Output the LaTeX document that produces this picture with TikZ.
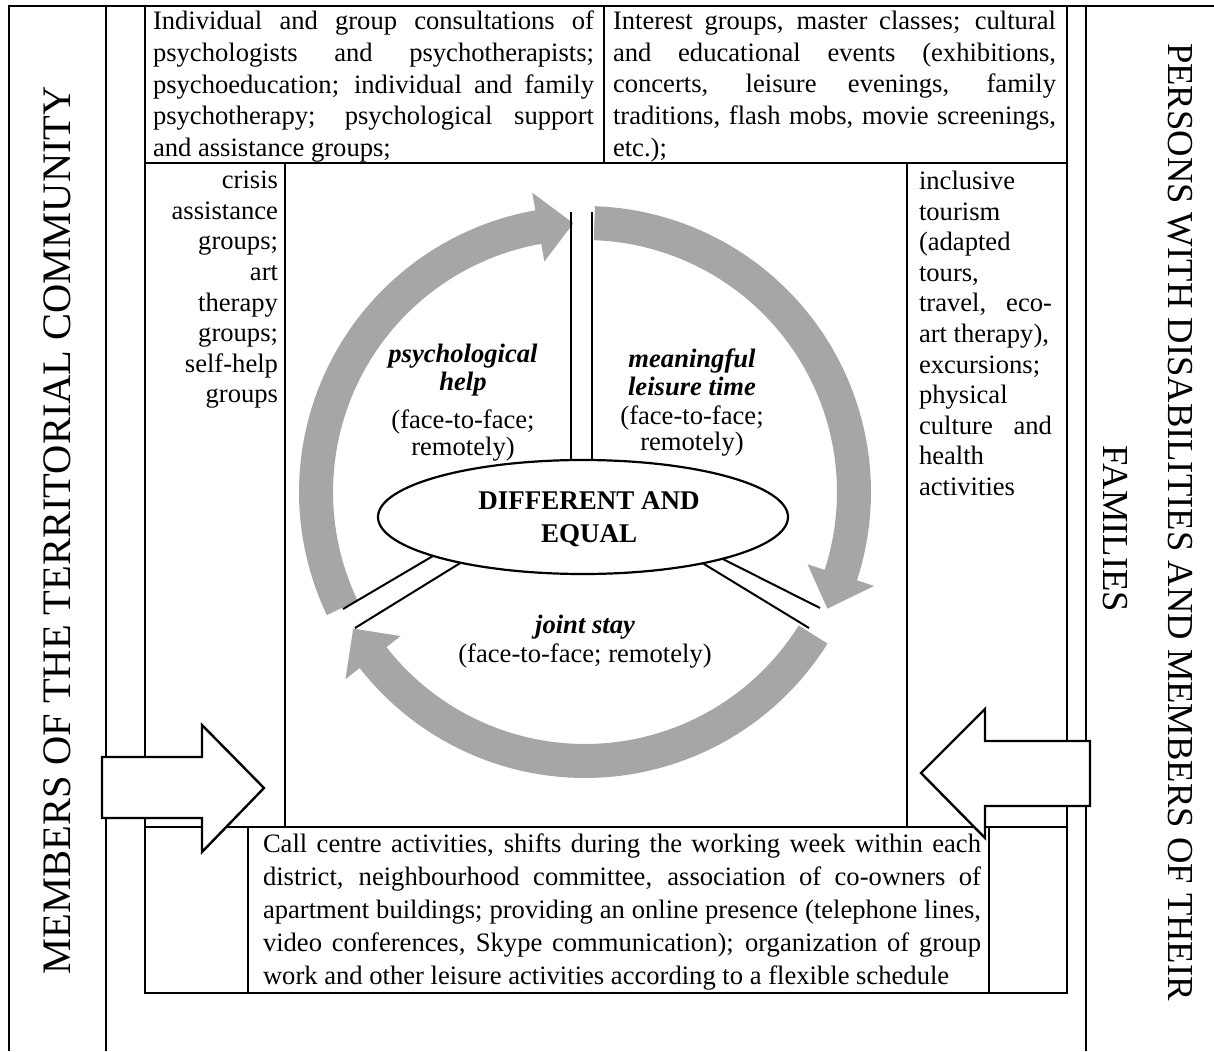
\documentclass[tikz,border=0pt]{standalone}
\usepackage{fontspec}
\setmainfont{Liberation Serif}
\usetikzlibrary{calc,shapes.geometric}
\definecolor{ringgray}{HTML}{A6A6A6}
\newcommand\bodysize{\fontsize{26.6}{31.7}\selectfont}
\newcommand\lowsize{\fontsize{26.6}{33}\selectfont}
\newcommand\colsize{\fontsize{26.6}{30.6}\selectfont}
% natural interword spaces (TikZ alignment fixes them otherwise)
\newcommand\natsp{\spaceskip=0pt\xspaceskip=0pt\relax}
% a line spread over the full text width
\newcommand\jl[1]{\makebox[\hsize][s]{\natsp #1}}
% one gray ring segment with an arrowhead: start angle, head base angle, tip angle
\newcommand\ringarrow[3]{%
  \fill[ringgray]
    plot[domain=#1:#2, samples=60] ({585+286*cos(\x)},{492+286*sin(\x)})
    -- ({585+304*cos(#2)},{492+304*sin(#2)})
    -- ({585+269*cos(#3)},{492+269*sin(#3)})
    -- ({585+234*cos(#2)},{492+234*sin(#2)})
    -- plot[domain=#2:#1, samples=60] ({585+252*cos(\x)},{492+252*sin(\x)})
    -- cycle;}

\begin{document}
\begin{tikzpicture}[x=1pt,y=-1pt,
  rule/.style={line width=2.2pt},
  txt/.style={inner sep=0pt, outer sep=0pt, font=\bodysize},
  lowtxt/.style={inner sep=0pt, outer sep=0pt, font=\lowsize},
  coltxt/.style={inner sep=0pt, outer sep=0pt, font=\colsize},
  lbl/.style={inner sep=0pt, anchor=base, font=\bodysize\bfseries\itshape},
  sub/.style={inner sep=0pt, anchor=base, font=\bodysize},
  spoke/.style={line width=2pt},
  blockarrow/.style={draw, line width=2.4pt, fill=white, line join=miter},
  core/.style={ellipse, draw, line width=2.2pt, fill=white, inner sep=0pt,
    minimum width=410pt, minimum height=114pt},
  coretxt/.style={inner sep=0pt, align=center,
    font=\fontsize{27}{33}\selectfont\bfseries},
]
\useasboundingbox (0,0) rectangle (1214,1051);

% outer frames
\draw[rule] (9,1051) -- (9,6) -- (1214,6);
\draw[rule] (106,6) -- (106,1051);
\draw[rule] (1086,6) -- (1086,1051);

% top row of boxes
\draw[rule] (145,6) rectangle (1067,163);
\draw[rule] (604,6) -- (604,163);

% side columns and centre field
\draw[rule] (145,163) -- (145,993);
\draw[rule] (1067,163) -- (1067,993);
\draw[rule] (285,163) -- (285,827);
\draw[rule] (907,163) -- (907,827);

% bottom row
\draw[rule] (145,827) rectangle (1067,993);
\draw[rule] (248,827) -- (248,993);
\draw[rule] (989,827) -- (989,993);

% texts of the boxes
\node[txt, anchor=north west, text width=441pt, align=left] (topL) at (153,11) {\natsp
\jl{Individual and group consultations of}\\
\jl{psychologists and psychotherapists;}\\
\jl{psychoeducation; individual and family}\\
\jl{psychotherapy; psychological support}\\
and assistance groups;};

\node[txt, anchor=north west, text width=443pt, align=left] (topR) at (613,11) {\natsp
\jl{Interest groups, master classes; cultural}\\
\jl{and educational events (exhibitions,}\\
\jl{concerts, leisure evenings, family}\\
\jl{traditions, flash mobs, movie screenings,}\\
etc.);};

\node[coltxt, anchor=north east, align=right] (colL) at (278,171) {\natsp
crisis\\ assistance\\ groups;\\ art\\ therapy\\ groups;\\ self-help\\ groups};

\node[coltxt, anchor=north west, text width=133pt, align=left] (colR) at (919,171) {\natsp
inclusive\\ tourism\\ (adapted\\ tours,\\ \jl{travel, eco-}\\ art therapy),\\
excursions;\\ physical\\ \jl{culture and}\\ health\\ activities};

\node[lowtxt, anchor=north west, text width=718pt, align=left] (bottom) at (263,834) {\natsp
\jl{Call centre activities, shifts during the working week within each}\\
\jl{district, neighbourhood committee, association of co-owners of}\\
\jl{apartment buildings; providing an online presence (telephone lines,}\\
\jl{video conferences, Skype communication); organization of group}\\
work and other leisure activities according to a flexible schedule};

% side captions
\node[inner sep=0pt, font=\fontsize{40.5}{44}\selectfont, rotate=90] (members) at (57,530)
  {MEMBERS OF THE TERRITORIAL COMMUNITY};
\node[inner sep=0pt, font=\fontsize{36.6}{40}\selectfont, rotate=-90] (persons) at (1180,522)
  {PERSONS WITH DISABILITIES AND MEMBERS OF THEIR};
\node[inner sep=0pt, font=\fontsize{36.6}{40}\selectfont, rotate=-90] (families) at (1115,529)
  {FAMILIES};

% the ring of three curved arrows
\ringarrow{154.5}{260}{267.5}
\ringarrow{272}{378}{385.7}
\ringarrow{32}{142}{149.5}

% ring labels
\node[lbl] (ph1) at (463,362) {psychological};
\node[lbl] (ph2) at (463,390) {help};
\node[sub] (ph3) at (463,428) {(face-to-face;};
\node[sub] (ph4) at (463,455) {remotely)};
\node[lbl] (ml1) at (692,367) {meaningful};
\node[lbl] (ml2) at (692,395) {leisure time};
\node[sub] (ml3) at (692,424) {(face-to-face;};
\node[sub] (ml4) at (692,450) {remotely)};
\node[lbl] (js1) at (585,633) {joint stay};
\node[sub] (js2) at (585,662) {(face-to-face; remotely)};

% spokes from the ring to the centre
\coordinate (sT1) at (571,212);
\coordinate (sT2) at (592,212);
\coordinate (sR1) at (820,608);
\coordinate (sR2) at (809,628);
\coordinate (sL1) at (343,609);
\coordinate (sL2) at (355,628);
\draw[spoke] (sT1) -- (571,490);
\draw[spoke] (sT2) -- (592,490);
\draw[spoke] (sR1) -- (695,545);
\draw[spoke] (sR2) -- (681,550);
\draw[spoke] (sL1) -- (472,533);
\draw[spoke] (sL2) -- (483,549);

\node[core] (centre) at (583,517) {};
\node[coretxt] (centretext) at (589,519) {DIFFERENT AND\\EQUAL};

% block arrows entering from both sides
\draw[blockarrow] (102,757) -- (202,757) -- (202,725) -- (264,788)
  -- (202,852) -- (202,818) -- (102,818) -- cycle;
\draw[blockarrow] (1090,741) -- (985,741) -- (985,709) -- (921,773)
  -- (985,838) -- (985,806) -- (1090,806) -- cycle;
\end{tikzpicture}
\end{document}
